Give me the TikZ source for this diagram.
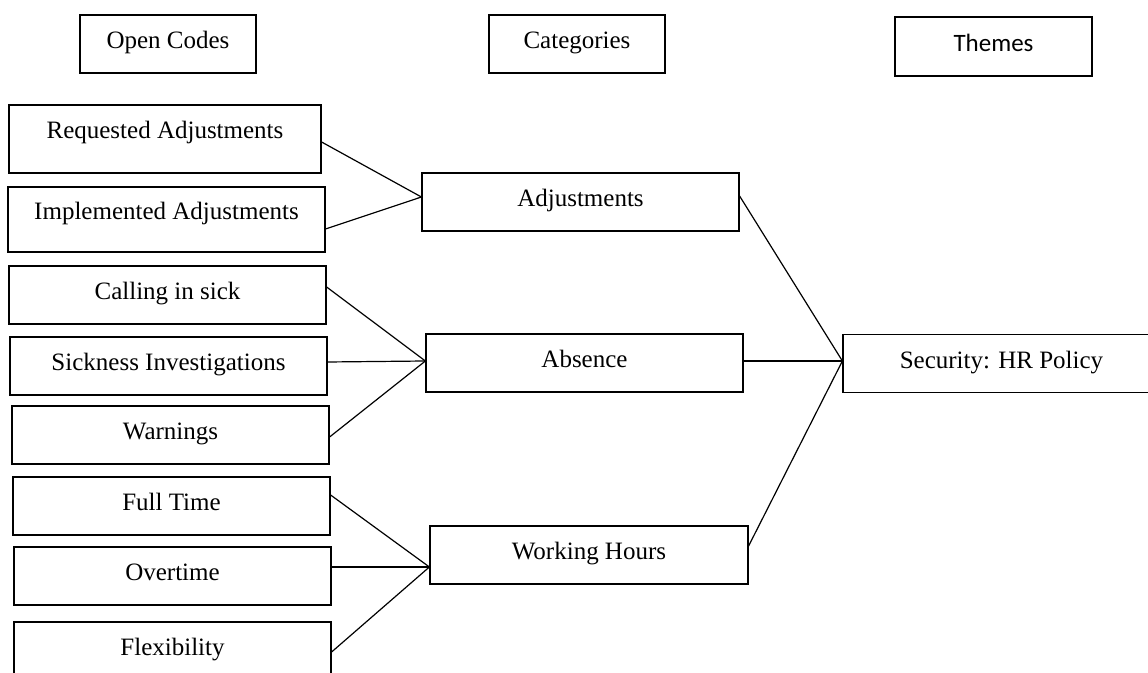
\documentclass[tikz,border=0pt]{standalone}
\usepackage{fontspec}
\setmainfont{Liberation Serif}
\newfontfamily\themefont{Carlito}

\begin{document}
\begin{tikzpicture}[x=0.5pt, y=-0.5pt,
		box/.style = {draw, line width=0.6pt, inner sep=0pt, minimum height=29pt, text height=9pt, text depth=4pt, font=\fontsize{12.5}{15}\selectfont},
		code/.style = {box, minimum width=158.5pt},
		link/.style = {line width=0.6pt}]
			\clip (0,0) rectangle (1148,673);
			% column headings
			\node[box, minimum width=88pt] (open) at (168,44) {Open Codes};
			\node[box, minimum width=88pt] (cat) at (577,44) {Categories};
			\node[box, minimum width=98.5pt, minimum height=29.5pt, font=\themefont\fontsize{12.5}{15}\selectfont] (theme) at (993.5,46.5) {Themes};
			% open codes
			\node[code, minimum width=156pt, minimum height=34pt, text depth=9pt] (req) at (165,139) {Requested Adjustments};
			\node[code, minimum height=32.5pt, text depth=9pt] (imp) at (166.5,219.5) {Implemented Adjustments};
			\node[code] (call) at (167.5,295) {Calling in sick};
			\node[code] (sick) at (168.5,366) {Sickness Investigations};
			\node[code] (warn) at (170.5,435) {Warnings};
			\node[code] (full) at (171.5,506) {Full Time};
			\node[code] (over) at (172.5,576) {Overtime};
			\node[code] (flex) at (172.5,651) {Flexibility};
			% categories
			\node[code] (adj) at (580.5,202) {Adjustments};
			\node[code] (abs) at (584.5,363) {Absence};
			\node[code, minimum width=159pt] (hours) at (589,555) {Working Hours};
			% theme
			\node[code] (sec) at (1001.5,363.5) {Security: HR Policy};
			\draw[link] ([yshift=-1.5pt]req.east) -- ([yshift=2.5pt]adj.west);
			\draw[link] ([yshift=-4.75pt]imp.east) -- ([yshift=2.5pt]adj.west);
			\draw[link] ([yshift=4pt]call.east) -- ([yshift=1pt]abs.west);
			\draw[link] ([yshift=2pt]sick.east) -- ([yshift=1pt]abs.west);
			\draw[link] ([yshift=-1pt]warn.east) -- ([yshift=1pt]abs.west);
			\draw[link] ([yshift=5.5pt]full.east) -- ([yshift=-6pt]hours.west);
			\draw[link] ([yshift=4.5pt]over.east) -- ([yshift=-6pt]hours.west);
			\draw[link] ([yshift=-0.5pt]flex.east) -- ([yshift=-6pt]hours.west);
			\draw[link] ([yshift=3pt]adj.east) -- ([yshift=1.25pt]sec.west);
			\draw[link] ([yshift=1pt]abs.east) -- ([yshift=1.25pt]sec.west);
			\draw[link] ([yshift=4.5pt]hours.east) -- ([yshift=1.25pt]sec.west);
		\end{tikzpicture}
\end{document}
